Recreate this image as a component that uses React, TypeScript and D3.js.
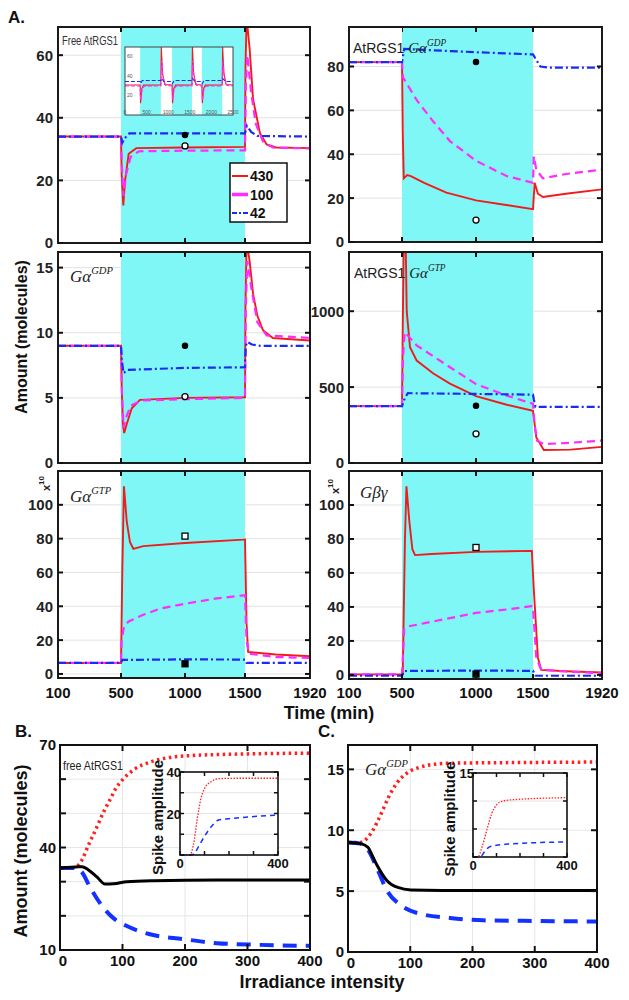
import React, { useEffect, useRef } from 'react';
import * as d3 from 'd3';

type Pt = [number, number];

// ---- panel A: time courses (min) ----
const timeTicks = [100, 500, 1000, 1500, 1920];
const lightOn: Pt = [500, 1500];
const doseNames = ['430', '100', '42'];

// free AtRGS1
const freeRgs430: Pt[] = [[100, 34], [500, 34], [505, 22], [518, 12], [532, 20], [560, 28.5], [620, 30.3], [1000, 30.5], [1500, 30.7], [1503, 55], [1510, 72], [1530, 62], [1552, 46], [1597, 35], [1640, 31.5], [1700, 30.5], [1920, 30.3]];
const freeRgs100: Pt[] = [[100, 34], [500, 34], [506, 25], [520, 15], [540, 22], [575, 27.5], [640, 29.3], [1000, 29.5], [1500, 29.6], [1505, 50], [1515, 60], [1540, 48], [1570, 38], [1620, 32], [1680, 30.5], [1920, 30.2]];
const freeRgs42: Pt[] = [[100, 34], [500, 34], [510, 32], [530, 33.5], [565, 35], [1000, 35], [1500, 35], [1512, 37.4], [1540, 35.5], [1580, 34.2], [1920, 34]];

// AtRGS1 Galpha-GDP
const rgsGdp430: Pt[] = [[100, 82], [500, 82], [505, 50], [512, 29], [535, 30.5], [560, 30], [650, 27], [800, 22.5], [1000, 19], [1250, 17], [1500, 15], [1510, 27], [1530, 22], [1560, 20.5], [1700, 22], [1920, 24]];
const rgsGdp100: Pt[] = [[100, 82], [500, 82], [507, 75], [601, 64.5], [710, 55], [824, 46], [1000, 37], [1272, 30], [1500, 27], [1505, 39], [1520, 33], [1560, 29], [1700, 31], [1920, 33]];
const rgsGdp42: Pt[] = [[100, 82], [500, 82], [515, 88], [1000, 86.5], [1500, 85.5], [1520, 83], [1545, 80], [1600, 79.5], [1920, 79.5]];

// Galpha-GDP
const gdp430: Pt[] = [[100, 9], [500, 9], [505, 6], [515, 3], [525, 2.3], [545, 3], [584, 4.2], [648, 4.85], [1000, 5.0], [1500, 5.05], [1503, 12], [1510, 17], [1530, 15.5], [1552, 13], [1580, 11.3], [1616, 10.2], [1680, 9.6], [1920, 9.4]];
const gdp100: Pt[] = [[100, 9], [500, 9], [507, 5.5], [520, 2.7], [540, 3.5], [575, 4.4], [660, 4.8], [1000, 4.9], [1500, 5.0], [1505, 12], [1515, 15.5], [1540, 13.5], [1580, 10.8], [1640, 9.8], [1920, 9.6]];
const gdp42: Pt[] = [[100, 9], [500, 9], [507, 7.8], [520, 6.9], [550, 7.15], [1000, 7.3], [1500, 7.35], [1505, 9.0], [1515, 9.3], [1545, 9.1], [1600, 9.0], [1920, 9.0]];

// AtRGS1 Galpha-GTP
const rgsGtp430: Pt[] = [[100, 375], [500, 375], [505, 900], [512, 1450], [525, 1450], [532, 1000], [554, 763], [599, 675], [712, 589], [824, 523], [1000, 440], [1270, 384], [1500, 344], [1520, 168], [1566, 86], [1729, 88], [1920, 106]];
const rgsGtp100: Pt[] = [[100, 375], [500, 375], [507, 700], [518, 862], [599, 775], [824, 631], [1000, 520], [1270, 444], [1500, 390], [1510, 250], [1525, 146], [1566, 124], [1750, 135], [1920, 148]];
const rgsGtp42: Pt[] = [[100, 375], [500, 375], [520, 430], [540, 460], [1000, 455], [1500, 450], [1505, 420], [1515, 370], [1920, 370]];

// Galpha-GTP (x10)
const gtp430: Pt[] = [[100, 6.5], [500, 6.5], [510, 60], [523, 111], [545, 90], [570, 78], [596, 74], [674, 75.6], [1000, 77.4], [1486, 79.4], [1500, 79.5], [1510, 30], [1520, 13], [1700, 11.5], [1920, 10.5]];
const gtp100: Pt[] = [[100, 6.5], [500, 6.5], [505, 20], [523, 28], [560, 31], [674, 35], [800, 38.5], [1000, 41.5], [1250, 44.5], [1486, 46.5], [1500, 46.5], [1510, 20], [1525, 12], [1700, 10], [1920, 9.5]];
const gtp42: Pt[] = [[100, 6.5], [500, 6.5], [510, 8.3], [1000, 8.6], [1500, 8.5], [1510, 6.5], [1920, 6.5]];

// G beta gamma (x10)
const gbg430: Pt[] = [[100, 0.3], [500, 0.3], [505, 0.5], [520, 80], [530, 111], [550, 90], [570, 74], [588, 70.5], [700, 71.2], [1000, 72.4], [1490, 73], [1505, 50], [1530, 10], [1550, 3], [1700, 2.2], [1920, 1.4]];
const gbg100: Pt[] = [[100, 0.3], [500, 0.3], [515, 27], [540, 28.5], [600, 29.5], [770, 32.5], [1000, 36.5], [1270, 38.5], [1490, 40.5], [1500, 40], [1520, 10], [1550, 3], [1700, 2], [1920, 1]];
const gbg42: Pt[] = [[100, -0.5], [500, -0.5], [515, 2.3], [1000, 2.6], [1500, 2.4], [1515, -0.5], [1920, -0.5]];

// inset of free AtRGS1 (repeated pulses)
const pulseBands: Pt[] = [[350, 830], [1090, 1550], [1780, 2250]];
const pulse430: Pt[] = [[0, 30.5], [350, 30.5], [360, 12], [390, 27], [430, 30.3], [830, 30.5], [840, 69], [870, 42], [920, 31], [1090, 30.5], [1100, 12], [1130, 27], [1170, 30.3], [1550, 30.5], [1560, 69], [1590, 42], [1640, 31], [1780, 30.5], [1790, 12], [1820, 27], [1860, 30.3], [2250, 30.5], [2260, 69], [2290, 42], [2340, 31], [2500, 30.5]];
const pulse100: Pt[] = [[0, 29.5], [350, 29.5], [362, 15], [400, 27], [450, 29.3], [830, 29.5], [842, 55], [880, 38], [940, 30], [1090, 29.5], [1102, 15], [1140, 27], [1190, 29.3], [1550, 29.5], [1562, 55], [1600, 38], [1660, 30], [1780, 29.5], [1792, 15], [1830, 27], [1880, 29.3], [2250, 29.5], [2262, 55], [2300, 38], [2360, 30], [2500, 29.5]];
const pulse42: Pt[] = [[0, 34], [350, 34], [360, 32], [400, 35], [830, 35], [845, 37], [900, 34], [1090, 34], [1100, 32], [1140, 35], [1550, 35], [1565, 37], [1620, 34], [1780, 34], [1790, 32], [1830, 35], [2250, 35], [2265, 37], [2320, 34], [2500, 34]];
const pulseTicks = [0, 500, 1000, 1500, 2000, 2500];

// ---- panels B, C: irradiance intensity ----
const doseTicks = [0, 100, 200, 300, 400];
const freeMax: Pt[] = [[0, 34], [20, 34], [30, 35], [35, 36.3], [45, 40.5], [59, 46], [70, 50.5], [80, 54], [90, 57.5], [101, 60], [120, 63], [144, 65], [170, 66.2], [200, 66.8], [300, 67.4], [400, 67.6]];
const freeSteady: Pt[] = [[0, 34], [25, 34.3], [35, 34.4], [45, 33.5], [59, 31.4], [72, 29.3], [86, 29.4], [107, 30], [150, 30.3], [250, 30.5], [400, 30.5]];
const freeMin: Pt[] = [[0, 34], [25, 34], [35, 32.8], [48, 28.4], [64, 23.7], [85, 19.4], [107, 17], [144, 14.6], [197, 13.2], [251, 12], [320, 11.5], [400, 11.2]];
const freeSpikeUp: Pt[] = [[0, 0], [40, 0], [55, 5], [70, 17], [85, 27], [100, 32], [130, 35.5], [160, 36.8], [250, 37], [400, 37]];
const freeSpikeDown: Pt[] = [[0, 0], [45, 0], [60, 1], [80, 5], [100, 9], [130, 14], [160, 17], [200, 17.5], [300, 18.5], [400, 19.3]];

const gdpMax: Pt[] = [[0, 9], [20, 9], [30, 9.3], [40, 10], [51, 11.1], [65, 12.7], [79, 13.9], [95, 14.7], [111, 15.1], [159, 15.5], [250, 15.55], [400, 15.6]];
const gdpSteady: Pt[] = [[0, 9], [20, 8.9], [32, 8.6], [40, 7.8], [48, 7], [62, 5.9], [80, 5.3], [101, 5.1], [200, 5.05], [400, 5.05]];
const gdpMin: Pt[] = [[0, 9], [20, 8.9], [32, 8.4], [48, 6.7], [62, 5.1], [86, 3.8], [111, 3.2], [164, 2.8], [217, 2.6], [300, 2.55], [400, 2.5]];
const gdpSpikeUp: Pt[] = [[0, 0], [20, 0], [40, 2], [60, 5], [80, 7.8], [100, 9.3], [120, 9.9], [160, 10.2], [400, 10.6]];
const gdpSpikeDown: Pt[] = [[0, 0], [30, 0], [50, 1], [70, 1.8], [100, 2.1], [150, 2.3], [400, 2.7]];

const SANS = "'Liberation Sans', Arial, sans-serif";
const SERIF = "'Liberation Serif', 'DejaVu Serif', serif";
const CYAN = '#80f7f7';

const doseStyle: Record<string, { color: string; dash: string | null; width: number }> = {
  '430': { color: '#f01c1c', dash: null, width: 1.9 },
  '100': { color: '#ff2cff', dash: '8,5', width: 2.2 },
  '42': { color: '#1a2cf0', dash: '8,3,2,3', width: 2.2 },
};

const supText = (g: any, x: number, y: number, base: string, sup: string, size: number, font: string, prefix = '') => {
  const t = g.append('text').attr('x', x).attr('y', y).attr('fill', '#222');
  if (prefix) {
    t.append('tspan').attr('font-family', SANS).attr('font-size', size - 1).text(prefix + ' ');
  }
  t.append('tspan').attr('font-family', font).attr('font-size', size).attr('font-style', 'italic').text(base);
  t.append('tspan').attr('font-family', font).attr('font-style', 'italic')
    .attr('dy', -size * 0.45).attr('font-size', size * 0.62).text(sup);
  return t;
};

function timePanel(svg: any, o: any) {
  const x = d3.scaleLinear().domain(timeTicks).range(o.xr);
  const y = d3.scaleLinear().domain(o.yDomain).range([o.bottom, o.top]);
  const x0 = o.xr[0], x1 = o.xr[o.xr.length - 1];
  const g = svg.append('g');

  svg.append('clipPath').attr('id', 'clip-' + o.id)
    .append('rect').attr('x', x0).attr('y', o.top).attr('width', x1 - x0).attr('height', o.bottom - o.top);

  // grid
  g.selectAll('line.grid').data(o.yTicks.filter((v: number) => y(v) < o.bottom - 3)).join('line')
    .attr('x1', x0).attr('x2', x1).attr('y1', (v: number) => y(v)).attr('y2', (v: number) => y(v))
    .attr('stroke', '#e2e2e2').attr('stroke-width', 1);

  // light period
  g.append('rect').attr('x', x(lightOn[0])).attr('y', o.top)
    .attr('width', x(lightOn[1]) - x(lightOn[0])).attr('height', o.bottom - o.top).attr('fill', CYAN);

  const line = d3.line<Pt>().x(d => x(d[0])).y(d => y(d[1]));
  const lg = g.append('g').attr('clip-path', `url(#clip-${o.id})`);
  o.series.forEach((s: Pt[], i: number) => {
    const st = doseStyle[doseNames[i]];
    lg.append('path').datum(s).attr('fill', 'none').attr('stroke', st.color)
      .attr('stroke-width', st.width).attr('stroke-dasharray', st.dash).attr('d', line);
  });

  // steady-state markers
  o.markers.forEach((m: any) => {
    if (m.shape === 'square') {
      lg.append('rect').attr('x', x(m.t) - 3).attr('y', y(m.v) - 3).attr('width', 6).attr('height', 6)
        .attr('fill', m.filled ? '#000' : '#fff').attr('stroke', '#000').attr('stroke-width', 1.3);
    } else {
      lg.append('circle').attr('cx', x(m.t)).attr('cy', y(m.v)).attr('r', m.filled ? 2.6 : 3)
        .attr('fill', m.filled ? '#000' : '#fff').attr('stroke', '#000').attr('stroke-width', 1.3);
    }
  });

  // frame + inward ticks
  g.append('rect').attr('x', x0).attr('y', o.top).attr('width', x1 - x0).attr('height', o.bottom - o.top)
    .attr('fill', 'none').attr('stroke', '#1a1a1a').attr('stroke-width', 2);
  [500, 1000, 1500].forEach(t => {
    g.append('line').attr('x1', x(t)).attr('x2', x(t)).attr('y1', o.bottom).attr('y2', o.bottom - 5).attr('stroke', '#111').attr('stroke-width', 2);
    g.append('line').attr('x1', x(t)).attr('x2', x(t)).attr('y1', o.top).attr('y2', o.top + 5).attr('stroke', '#111').attr('stroke-width', 2);
  });
  o.yTicks.forEach((v: number) => {
    g.append('line').attr('x1', x0).attr('x2', x0 + 5).attr('y1', y(v)).attr('y2', y(v)).attr('stroke', '#111').attr('stroke-width', 2);
    g.append('line').attr('x1', x1).attr('x2', x1 - 5).attr('y1', y(v)).attr('y2', y(v)).attr('stroke', '#111').attr('stroke-width', 2);
    g.append('text').attr('x', x0 - 5).attr('y', y(v)).attr('dy', '0.36em').attr('text-anchor', 'end')
      .attr('font-family', SANS).attr('font-size', 15).attr('font-weight', 'bold').attr('fill', '#222').text(v);
  });
  if (o.xLabels) {
    timeTicks.forEach(t => {
      g.append('text').attr('x', x(t)).attr('y', 698).attr('text-anchor', 'middle')
        .attr('font-family', SANS).attr('font-size', 15).attr('font-weight', 'bold').attr('fill', '#111').text(t);
    });
  }
  return { x, y, g };
}

function dosePanel(svg: any, o: any) {
  const x = d3.scaleLinear().domain([0, 400]).range([o.x0, o.x1]);
  const y = d3.scaleLinear().domain(o.yDomain).range([o.bottom, o.top]);
  const g = svg.append('g');
  svg.append('clipPath').attr('id', 'clip-' + o.id)
    .append('rect').attr('x', o.x0).attr('y', o.top).attr('width', o.x1 - o.x0).attr('height', o.bottom - o.top);
  g.append('rect').attr('x', o.x0).attr('y', o.top).attr('width', o.x1 - o.x0).attr('height', o.bottom - o.top).attr('fill', '#fff');
  doseTicks.slice(1, -1).forEach(v => {
    g.append('line').attr('x1', x(v)).attr('x2', x(v)).attr('y1', o.top).attr('y2', o.bottom).attr('stroke', '#e6e6e6');
  });
  o.yTicks.filter((v: number) => v > o.yDomain[0] && v < o.yDomain[1]).forEach((v: number) => {
    g.append('line').attr('x1', o.x0).attr('x2', o.x1).attr('y1', y(v)).attr('y2', y(v)).attr('stroke', '#e6e6e6');
  });
  const line = d3.line<Pt>().x(d => x(d[0])).y(d => y(d[1])).curve(d3.curveMonotoneX);
  const lg = g.append('g').attr('clip-path', `url(#clip-${o.id})`);
  lg.append('path').datum(o.max).attr('fill', 'none').attr('stroke', '#ff2020').attr('stroke-width', 3.5).attr('stroke-dasharray', '2.5,3.5').attr('d', line);
  lg.append('path').datum(o.min).attr('fill', 'none').attr('stroke', '#1432ff').attr('stroke-width', 4).attr('stroke-dasharray', '14,9').attr('d', line);
  lg.append('path').datum(o.steady).attr('fill', 'none').attr('stroke', '#000').attr('stroke-width', 3).attr('d', line);

  g.append('rect').attr('x', o.x0).attr('y', o.top).attr('width', o.x1 - o.x0).attr('height', o.bottom - o.top)
    .attr('fill', 'none').attr('stroke', '#111').attr('stroke-width', 2);
  doseTicks.forEach(v => {
    g.append('line').attr('x1', x(v)).attr('x2', x(v)).attr('y1', o.bottom).attr('y2', o.bottom - 6).attr('stroke', '#111').attr('stroke-width', 2);
    g.append('line').attr('x1', x(v)).attr('x2', x(v)).attr('y1', o.top).attr('y2', o.top + 6).attr('stroke', '#111').attr('stroke-width', 2);
    g.append('text').attr('x', x(v) + (v === 0 ? 3 : 0)).attr('y', o.bottom + 16).attr('text-anchor', 'middle')
      .attr('font-family', SANS).attr('font-size', 15).attr('font-weight', 'bold').attr('fill', '#111').text(v);
  });
  o.yTicks.forEach((v: number) => {
    g.append('line').attr('x1', o.x0).attr('x2', o.x0 + 6).attr('y1', y(v)).attr('y2', y(v)).attr('stroke', '#111').attr('stroke-width', 2);
    g.append('line').attr('x1', o.x1).attr('x2', o.x1 - 6).attr('y1', y(v)).attr('y2', y(v)).attr('stroke', '#111').attr('stroke-width', 2);
  });
  o.yLabels.forEach((v: number) => {
    g.append('text').attr('x', o.x0 - 4).attr('y', y(v)).attr('dy', '0.36em').attr('text-anchor', 'end')
      .attr('font-family', SANS).attr('font-size', 15).attr('font-weight', 'bold').attr('fill', '#111').text(v);
  });
  return { x, y, g };
}

function spikeInset(svg: any, o: any) {
  const x = d3.scaleLinear().domain([0, 400]).range([o.x0, o.x1]);
  const y = d3.scaleLinear().domain(o.yDomain).range([o.bottom, o.top]);
  const g = svg.append('g');
  g.append('rect').attr('x', o.x0).attr('y', o.top).attr('width', o.x1 - o.x0).attr('height', o.bottom - o.top).attr('fill', '#fff');
  o.yTicks.slice(1, -1).forEach((v: number) => {
    g.append('line').attr('x1', o.x0).attr('x2', o.x1).attr('y1', y(v)).attr('y2', y(v)).attr('stroke', '#e4e4e4');
  });
  const line = d3.line<Pt>().x(d => x(d[0])).y(d => y(d[1])).curve(d3.curveMonotoneX);
  g.append('path').datum(o.up).attr('fill', 'none').attr('stroke', '#ff2020').attr('stroke-width', 1.3).attr('stroke-dasharray', '1.5,1.5').attr('d', line);
  g.append('path').datum(o.down).attr('fill', 'none').attr('stroke', '#1432ff').attr('stroke-width', 1.5).attr('stroke-dasharray', '5,4').attr('d', line);
  g.append('rect').attr('x', o.x0).attr('y', o.top).attr('width', o.x1 - o.x0).attr('height', o.bottom - o.top)
    .attr('fill', 'none').attr('stroke', '#111').attr('stroke-width', 1.6);
  doseTicks.forEach(v => {
    g.append('line').attr('x1', x(v)).attr('x2', x(v)).attr('y1', o.bottom).attr('y2', o.bottom - 4).attr('stroke', '#111').attr('stroke-width', 1.5);
    g.append('line').attr('x1', x(v)).attr('x2', x(v)).attr('y1', o.top).attr('y2', o.top + 4).attr('stroke', '#111').attr('stroke-width', 1.5);
  });
  o.yTicks.forEach((v: number) => {
    g.append('line').attr('x1', o.x0).attr('x2', o.x0 + 4).attr('y1', y(v)).attr('y2', y(v)).attr('stroke', '#111').attr('stroke-width', 1.5);
    g.append('line').attr('x1', o.x1).attr('x2', o.x1 - 4).attr('y1', y(v)).attr('y2', y(v)).attr('stroke', '#111').attr('stroke-width', 1.5);
  });
  const lab = (tx: number, ty: number, s: string, anchor: string) =>
    g.append('text').attr('x', tx).attr('y', ty).attr('text-anchor', anchor).attr('font-family', SANS)
      .attr('font-size', 13).attr('font-weight', 'bold').attr('fill', '#111').text(s);
  o.yLabels.forEach((v: number) => lab(o.x0 + 1, y(v) + 5, String(v), 'end'));
  lab(o.x0, o.bottom + 13, '0', 'middle');
  lab(o.x1, o.bottom + 13, '400', 'middle');
  g.append('text').attr('transform', `translate(${o.labelX},${(o.top + o.bottom) / 2 + 4}) rotate(-90)`)
    .attr('text-anchor', 'middle').attr('font-family', SANS).attr('font-size', 15).attr('font-weight', 'bold')
    .attr('fill', '#111').text('Spike amplitude');
}

export default function App() {
  const ref = useRef<SVGSVGElement>(null);

  useEffect(() => {
    const svg = d3.select(ref.current);
    svg.selectAll('*').remove();

    const leftX = [58, 121, 185, 245, 310];
    const rightX = [349, 402, 476, 533, 602];

    // ---------- A ----------
    const a1 = timePanel(svg, {
      id: 'a1', xr: leftX, top: 27, bottom: 243, yDomain: [0, 69], yTicks: [0, 20, 40, 60],
      series: [freeRgs430, freeRgs100, freeRgs42],
      markers: [{ t: 1000, v: 34.5, filled: true }, { t: 1000, v: 31, filled: false }],
    });
    a1.g.append('text').attr('x', 62).attr('y', 45).attr('font-family', SANS).attr('font-size', 12)
      .attr('textLength', 56).attr('lengthAdjust', 'spacingAndGlyphs').attr('fill', '#333').text('Free AtRGS1');

    // pulse inset
    {
      const ix = d3.scaleLinear().domain([0, 2500]).range([125, 233]);
      const iy = d3.scaleLinear().domain([0, 69]).range([115, 47]);
      const ig = svg.append('g');
      ig.append('rect').attr('x', 125).attr('y', 47).attr('width', 108).attr('height', 68).attr('fill', '#fff');
      pulseBands.forEach(b => {
        ig.append('rect').attr('x', ix(b[0])).attr('y', 47).attr('width', ix(b[1]) - ix(b[0])).attr('height', 68).attr('fill', CYAN);
      });
      svg.append('clipPath').attr('id', 'clip-in').append('rect').attr('x', 125).attr('y', 47).attr('width', 108).attr('height', 68);
      const il = d3.line<Pt>().x(d => ix(d[0])).y(d => iy(d[1]));
      const cg = ig.append('g').attr('clip-path', 'url(#clip-in)');
      [pulse430, pulse100, pulse42].forEach((s, i) => {
        const st = doseStyle[doseNames[i]];
        cg.append('path').datum(s).attr('fill', 'none').attr('stroke', st.color).attr('stroke-width', 1.1)
          .attr('stroke-dasharray', st.dash ? '4,2' : null).attr('d', il);
      });
      ig.append('rect').attr('x', 125).attr('y', 47).attr('width', 108).attr('height', 68)
        .attr('fill', 'none').attr('stroke', '#444').attr('stroke-width', 1);
      pulseTicks.forEach(t => {
        ig.append('text').attr('x', ix(t)).attr('y', 114).attr('text-anchor', 'middle').attr('font-family', SANS)
          .attr('font-size', 5).attr('fill', '#555').text(t);
      });
      [20, 40, 60].forEach(v => {
        ig.append('text').attr('x', 127).attr('y', iy(v) + 2).attr('font-family', SANS).attr('font-size', 5).attr('fill', '#555').text(v);
      });
    }

    // legend
    {
      const lgd = svg.append('g');
      lgd.append('rect').attr('x', 230).attr('y', 163).attr('width', 57).attr('height', 59)
        .attr('fill', '#fff').attr('stroke', '#111').attr('stroke-width', 1.5);
      doseNames.forEach((n, i) => {
        const st = doseStyle[n];
        const yy = 176 + i * 18.5;
        lgd.append('line').attr('x1', 232).attr('x2', 248).attr('y1', yy).attr('y2', yy).attr('stroke', st.color)
          .attr('stroke-width', n === '100' ? 3.5 : 2).attr('stroke-dasharray', n === '42' ? '5,2,2,2' : null);
        lgd.append('text').attr('x', 250).attr('y', yy + 5).attr('font-family', SANS).attr('font-size', 14)
          .attr('font-weight', 'bold').attr('fill', '#111').text(n);
      });
    }

    const a2 = timePanel(svg, {
      id: 'a2', xr: rightX, top: 27, bottom: 242, yDomain: [0, 98], yTicks: [0, 20, 40, 60, 80],
      series: [rgsGdp430, rgsGdp100, rgsGdp42],
      markers: [{ t: 1000, v: 82, filled: true }, { t: 1000, v: 10, filled: false }],
    });
    a2.g.append('rect').attr('x', 350).attr('y', 28).attr('width', 52).attr('height', 33).attr('fill', '#fff');
    supText(a2.g, 353, 53, 'Gα', 'GDP', 15, SERIF, 'AtRGS1');

    const a3 = timePanel(svg, {
      id: 'a3', xr: leftX, top: 252, bottom: 463, yDomain: [0, 16.2], yTicks: [0, 5, 10, 15],
      series: [gdp430, gdp100, gdp42],
      markers: [{ t: 1000, v: 9, filled: true }, { t: 1000, v: 5.1, filled: false }],
    });
    supText(a3.g, 70, 282, 'Gα', 'GDP', 17, SERIF);

    const a4 = timePanel(svg, {
      id: 'a4', xr: rightX, top: 252, bottom: 463, yDomain: [0, 1390], yTicks: [0, 500, 1000],
      series: [rgsGtp430, rgsGtp100, rgsGtp42],
      markers: [{ t: 1000, v: 377, filled: true }, { t: 1000, v: 192, filled: false }],
    });
    supText(a4.g, 354, 278, 'Gα', 'GTP', 15, SERIF, 'AtRGS1');

    const a5 = timePanel(svg, {
      id: 'a5', xr: leftX, top: 471, bottom: 678, yDomain: [-2.4, 120], yTicks: [0, 20, 40, 60, 80, 100],
      series: [gtp430, gtp100, gtp42], xLabels: true,
      markers: [{ t: 1000, v: 81.5, filled: false, shape: 'square' }, { t: 1000, v: 6, filled: true, shape: 'square' }],
    });
    supText(a5.g, 70, 502, 'Gα', 'GTP', 17, SERIF);

    const a6 = timePanel(svg, {
      id: 'a6', xr: rightX, top: 471, bottom: 679, yDomain: [-2.4, 120], yTicks: [0, 20, 40, 60, 80, 100],
      series: [gbg430, gbg100, gbg42], xLabels: true,
      markers: [{ t: 1000, v: 75, filled: false, shape: 'square' }, { t: 1000, v: 0.5, filled: true, shape: 'square' }],
    });
    a6.g.append('text').attr('x', 360).attr('y', 498).attr('font-family', SERIF).attr('font-size', 17)
      .attr('font-style', 'italic').attr('fill', '#222').text('Gβγ');

    // x10 multipliers
    [[50, 491], [339, 494]].forEach(([tx, ty]) => {
      const t = svg.append('text').attr('transform', `translate(${tx},${ty}) rotate(-90)`)
        .attr('font-family', SANS).attr('font-size', 11).attr('font-weight', 'bold').attr('fill', '#222');
      t.append('tspan').text('x');
      t.append('tspan').attr('dy', -6).attr('font-size', 8).text('10');
    });

    // ---------- B ----------
    const b = dosePanel(svg, {
      id: 'b', x0: 60, x1: 310, top: 745, bottom: 950, yDomain: [10, 70],
      yTicks: [10, 20, 30, 40, 50, 60, 70], yLabels: [70, 40, 10],
      max: freeMax, steady: freeSteady, min: freeMin,
    });
    b.g.append('text').attr('x', 63).attr('y', 770).attr('font-family', SANS).attr('font-size', 13)
      .attr('textLength', 60).attr('lengthAdjust', 'spacingAndGlyphs').attr('fill', '#222').text('free AtRGS1');
    spikeInset(svg, {
      x0: 180, x1: 278, top: 772, bottom: 855, yDomain: [0, 40], yTicks: [0, 10, 20, 30, 40], yLabels: [40, 20],
      up: freeSpikeUp, down: freeSpikeDown, labelX: 163,
    });

    // ---------- C ----------
    const c = dosePanel(svg, {
      id: 'c', x0: 348, x1: 597, top: 745, bottom: 952, yDomain: [0, 17],
      yTicks: [0, 5, 10, 15], yLabels: [0, 5, 10, 15],
      max: gdpMax, steady: gdpSteady, min: gdpMin,
    });
    supText(c.g, 365, 775, 'Gα', 'GDP', 17, SERIF);
    spikeInset(svg, {
      x0: 473, x1: 567, top: 773, bottom: 857, yDomain: [0, 15], yTicks: [0, 5, 10, 15], yLabels: [15],
      up: gdpSpikeUp, down: gdpSpikeDown, labelX: 455,
    });

    // ---------- shared labels ----------
    const bold = (tx: number, ty: number, s: string, size: number, anchor = 'start', rot = false) =>
      svg.append('text').attr('transform', rot ? `translate(${tx},${ty}) rotate(-90)` : `translate(${tx},${ty})`)
        .attr('text-anchor', anchor).attr('font-family', SANS).attr('font-size', size).attr('font-weight', 'bold')
        .attr('fill', '#111').text(s);
    bold(8, 23, 'A.', 17);
    bold(15, 737, 'B.', 17);
    bold(318, 737, 'C.', 17);
    bold(329, 719, 'Time (min)', 18, 'middle');
    bold(322, 988, 'Irradiance intensity', 18, 'middle');
    bold(27, 337, 'Amount (molecules)', 16, 'middle', true);
    bold(27, 851, 'Amount (molecules)', 18, 'middle', true);
  }, []);

  return (
    <svg ref={ref} width={629} height={1000}
      style={{ position: 'absolute', left: 0, top: 0, background: '#fff' }} />
  );
}
